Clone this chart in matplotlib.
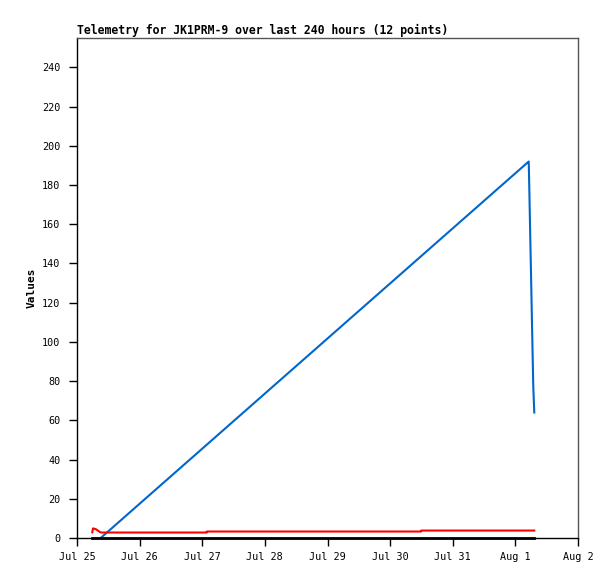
import matplotlib
matplotlib.use("Agg")
import matplotlib.pyplot as plt

# days since Jul 25 00:00
blue_t = [0.378, 7.213, 7.222, 7.238, 7.254, 7.270, 7.286, 7.302]
blue_v = [0, 192, 179, 153, 128, 102, 77, 64]

red_t = [0.244, 0.255, 0.30, 0.378, 2.071, 2.073, 5.493, 5.495, 7.302]
red_v = [2.9, 4.9, 4.5, 2.8, 2.8, 3.3, 3.3, 3.8, 3.8]

black_t = [0.244, 7.302]
black_v = [0, 0]

day_ticks = [0, 1, 2, 3, 4, 5, 6, 7, 8]
day_labels = ["Jul 25", "Jul 26", "Jul 27", "Jul 28", "Jul 29", "Jul 30", "Jul 31", "Aug 1", "Aug 2"]
y_ticks = list(range(0, 241, 20))

plt.rcParams["font.family"] = ["DejaVu Sans Mono"]

fig = plt.figure(figsize=(6.15, 5.79), dpi=100)
ax = fig.add_axes([77 / 615, 41 / 579, 501 / 615, 500 / 579])

ax.plot(blue_t, blue_v, color="#0066cc", linewidth=1.5, zorder=3)
ax.plot(red_t, red_v, color="#ff0000", linewidth=1.5, zorder=3)
ax.plot(black_t, black_v, color="black", linewidth=2.0, zorder=4, clip_on=False)

ax.set_xlim(0, 8)
ax.set_ylim(0, 255)
ax.set_xticks(day_ticks)
ax.set_xticklabels(day_labels)
ax.set_yticks(y_ticks)
ax.tick_params(axis="both", direction="out", length=6, width=1, labelsize=7.3, colors="black")
ax.tick_params(axis="x", pad=4)
ax.tick_params(axis="y", pad=6)

for side in ["top", "right"]:
    ax.spines[side].set_color("#555555")
    ax.spines[side].set_linewidth(1)
for side in ["left", "bottom"]:
    ax.spines[side].set_color("black")
    ax.spines[side].set_linewidth(1)

ax.set_ylabel("Values", fontsize=8, fontweight="bold", labelpad=4)
ax.set_title("Telemetry for JK1PRM-9 over last 240 hours (12 points)",
             fontsize=8.3, fontweight="bold", loc="left", pad=3)

fig.savefig("out.png", dpi=100)
